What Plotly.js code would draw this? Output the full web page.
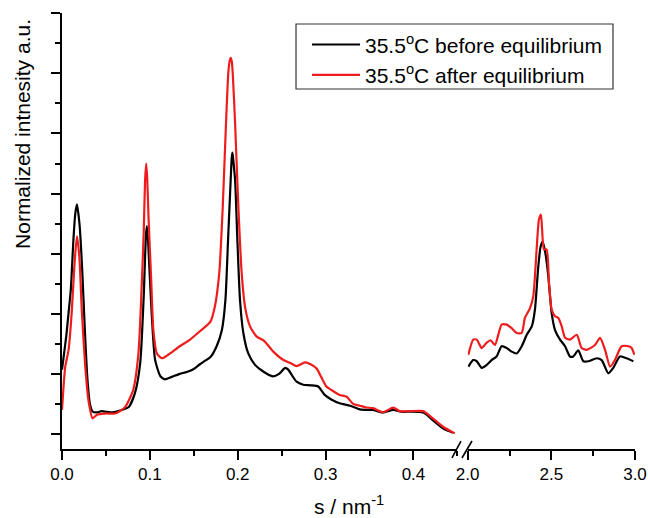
<!DOCTYPE html>
<html>
<head>
<meta charset="utf-8">
<script src="https://cdn.plot.ly/plotly-3.0.1.min.js"></script>
<style>html,body{margin:0;padding:0;background:#fff;}#chart{width:648px;height:518px;}</style>
</head>
<body>
<div id="chart"></div>
<script>
// Segment 1 (s from 0 to 0.45 nm^-1)
const sBefore1 = [0.000,0.005,0.0075,0.010,0.013,0.015,0.017,0.020,0.023,0.026,0.029,0.032,0.035,0.040,0.045,0.050,0.055,0.061,0.068,0.076,0.083,0.089,0.093,0.0955,0.0966,0.098,0.102,0.106,0.112,0.117,0.125,0.134,0.142,0.150,0.157,0.163,0.169,0.176,0.182,0.186,0.189,0.192,0.1932,0.194,0.195,0.197,0.1996,0.2026,0.2064,0.212,0.2197,0.229,0.240,0.247,0.254,0.2575,0.262,0.267,0.2746,0.283,0.2916,0.299,0.307,0.316,0.328,0.339,0.350,0.354,0.365,0.377,0.386,0.396,0.411,0.416,0.422,0.434,0.445];
const iBefore1 = [1.07,1.65,2.02,2.40,3.23,3.65,3.82,3.48,2.73,1.73,0.90,0.48,0.37,0.36,0.38,0.37,0.36,0.37,0.40,0.45,0.68,1.18,2.29,3.30,3.46,3.20,2.02,1.23,0.96,0.91,0.95,1.00,1.03,1.08,1.16,1.22,1.28,1.46,1.73,2.23,3.23,4.23,4.60,4.68,4.55,4.23,3.23,2.23,1.68,1.34,1.15,1.04,0.96,1.00,1.10,1.07,0.97,0.87,0.82,0.81,0.79,0.65,0.57,0.51,0.47,0.41,0.40,0.40,0.36,0.40,0.37,0.37,0.36,0.31,0.23,0.09,0.02];

const sAfter1 = [0.000,0.0037,0.0075,0.011,0.0143,0.017,0.0197,0.0227,0.0265,0.030,0.0348,0.0398,0.049,0.0606,0.066,0.072,0.081,0.087,0.091,0.093,0.0945,0.0958,0.097,0.0985,0.1015,0.104,0.108,0.1136,0.117,0.123,0.134,0.1458,0.157,0.169,0.174,0.179,0.183,0.1867,0.1893,0.191,0.192,0.1932,0.1943,0.197,0.2007,0.2045,0.2083,0.214,0.2216,0.230,0.2405,0.252,0.260,0.267,0.2765,0.283,0.2898,0.295,0.301,0.308,0.316,0.324,0.3314,0.339,0.3466,0.354,0.365,0.377,0.3844,0.396,0.411,0.422,0.4336,0.447];
const iAfter1 = [0.40,1.12,1.40,2.01,2.84,3.29,2.96,2.01,1.12,0.57,0.26,0.32,0.34,0.34,0.38,0.45,0.73,1.34,2.57,3.35,4.20,4.50,4.25,3.60,2.57,1.73,1.34,1.26,1.28,1.34,1.46,1.57,1.71,1.87,2.12,2.68,3.79,5.18,6.01,6.22,6.26,6.20,6.01,5.18,3.79,2.68,2.12,1.79,1.62,1.55,1.37,1.23,1.18,1.13,1.19,1.16,1.09,0.95,0.79,0.72,0.65,0.62,0.50,0.47,0.44,0.43,0.36,0.44,0.38,0.38,0.38,0.26,0.12,0.01];

// Segment 2 (s from 2.0 to 3.0 nm^-1)
const sBefore2 = [2.004,2.033,2.054,2.084,2.114,2.143,2.173,2.203,2.233,2.263,2.293,2.323,2.353,2.383,2.402,2.422,2.436,2.448,2.465,2.482,2.502,2.522,2.552,2.582,2.611,2.631,2.661,2.691,2.721,2.771,2.801,2.840,2.870,2.910,2.950,2.990];
const iBefore2 = [1.12,1.23,1.21,1.10,1.15,1.23,1.29,1.46,1.43,1.37,1.34,1.46,1.65,1.79,2.07,2.79,3.12,3.20,3.00,2.62,2.01,1.73,1.57,1.46,1.29,1.29,1.39,1.21,1.21,1.26,1.23,1.01,1.10,1.29,1.26,1.21];

const sAfter2 = [2.004,2.033,2.054,2.084,2.114,2.137,2.163,2.203,2.233,2.263,2.293,2.323,2.342,2.372,2.392,2.412,2.426,2.438,2.456,2.472,2.486,2.502,2.522,2.542,2.562,2.582,2.611,2.652,2.681,2.711,2.761,2.791,2.821,2.851,2.880,2.920,2.960,2.980,2.996];
const iAfter2 = [1.32,1.57,1.57,1.43,1.52,1.56,1.48,1.82,1.82,1.76,1.68,1.68,1.93,2.09,2.29,3.07,3.57,3.65,3.07,3.07,2.51,2.07,1.96,1.93,1.79,1.60,1.57,1.65,1.43,1.40,1.48,1.60,1.40,1.12,1.23,1.46,1.46,1.43,1.32];

const nameBefore = '35.5<sup>o</sup>C before equilibrium';
const nameAfter = '35.5<sup>o</sup>C after equilibrium';
const xTickVals1 = [0.0,0.1,0.2,0.3,0.4];
const xTickVals2 = [2.0,2.5,3.0];

const BLACK = '#000000', RED = '#ee1c1c';
const FONT = 'Arial, "Liberation Sans", sans-serif';
const LINE_SHAPE = {shape: 'spline', smoothing: 0.6};

const traces = [
  {x: sBefore1, y: iBefore1, type: 'scatter', mode: 'lines', name: nameBefore, line: Object.assign({color: BLACK, width: 2.2}, LINE_SHAPE), xaxis: 'x', yaxis: 'y', legendgroup: 'b'},
  {x: sAfter1, y: iAfter1, type: 'scatter', mode: 'lines', name: nameAfter, line: Object.assign({color: RED, width: 2.2}, LINE_SHAPE), xaxis: 'x', yaxis: 'y', legendgroup: 'a'},
  {x: sBefore2, y: iBefore2, type: 'scatter', mode: 'lines', name: nameBefore, showlegend: false, line: Object.assign({color: BLACK, width: 2.2}, LINE_SHAPE), xaxis: 'x2', yaxis: 'y', legendgroup: 'b'},
  {x: sAfter2, y: iAfter2, type: 'scatter', mode: 'lines', name: nameAfter, showlegend: false, line: Object.assign({color: RED, width: 2.2}, LINE_SHAPE), xaxis: 'x2', yaxis: 'y', legendgroup: 'a'}
];

const tickCommon = {
  showline: true, linecolor: BLACK, linewidth: 2, showgrid: false, zeroline: false,
  ticks: 'outside', ticklen: 9, tickwidth: 2, tickcolor: BLACK,
  tickfont: {family: FONT, size: 17, color: BLACK}
};

const layout = {
  width: 648, height: 518,
  margin: {l: 62, r: 13, t: 13, b: 69},
  paper_bgcolor: '#ffffff', plot_bgcolor: '#ffffff',
  font: {family: FONT, color: BLACK},
  showlegend: true,
  legend: {
    x: 0.4276, y: 0.974, xanchor: 'left', yanchor: 'top',
    bgcolor: 'rgba(0,0,0,0)', borderwidth: 0, itemwidth: 48,
    font: {family: FONT, size: 21, color: BLACK},
    tracegroupgap: 0
  },
  xaxis: Object.assign({}, tickCommon, {
    domain: [0, 0.690], range: [0, 0.45], anchor: 'y',
    tickvals: xTickVals1, tickformat: '.1f',
    minor: {dtick: 0.05, tick0: 0, ticks: 'outside', ticklen: 5, tickwidth: 2, tickcolor: BLACK}
  }),
  xaxis2: Object.assign({}, tickCommon, {
    domain: [0.708, 1.0], range: [2.0, 3.0], anchor: 'y',
    tickvals: xTickVals2, tickformat: '.1f',
    minor: {dtick: 0.25, tick0: 2, ticks: 'outside', ticklen: 5, tickwidth: 2, tickcolor: BLACK}
  }),
  yaxis: Object.assign({}, tickCommon, {
    domain: [0, 1], range: [-0.25, 7.005], anchor: 'x',
    dtick: 1, tick0: 0, showticklabels: false,
    minor: {dtick: 0.5, tick0: 0, ticks: 'outside', ticklen: 5, tickwidth: 2, tickcolor: BLACK}
  }),
  shapes: [
    {type: 'rect', xref: 'paper', yref: 'paper', x0: 0.4084, x1: 0.9616, y0: 0.8257, y1: 0.9748, layer: 'below', fillcolor: '#ffffff', line: {color: '#333333', width: 1.2}},
    {type: 'line', xref: 'paper', yref: 'paper', x0: 0.6806, y0: -0.0206, x1: 0.6963, y1: 0.0183, line: {color: BLACK, width: 1.6}},
    {type: 'line', xref: 'paper', yref: 'paper', x0: 0.698, y0: -0.0206, x1: 0.7155, y1: 0.0183, line: {color: BLACK, width: 1.6}}
  ],
  annotations: [
    {text: 'Normalized intnesity a.u.', xref: 'paper', yref: 'paper', x: -0.068, y: 0.991,
     xanchor: 'center', yanchor: 'top', textangle: -90, showarrow: false,
     font: {family: FONT, size: 21, color: BLACK}},
    {text: 's / nm<sup>-1</sup>', xref: 'paper', yref: 'paper', x: 0.5, y: -0.128,
     xanchor: 'center', yanchor: 'middle', showarrow: false,
     font: {family: FONT, size: 21, color: BLACK}}
  ]
};

Plotly.newPlot('chart', traces, layout, {displayModeBar: false, staticPlot: true});
</script>
</body>
</html>
